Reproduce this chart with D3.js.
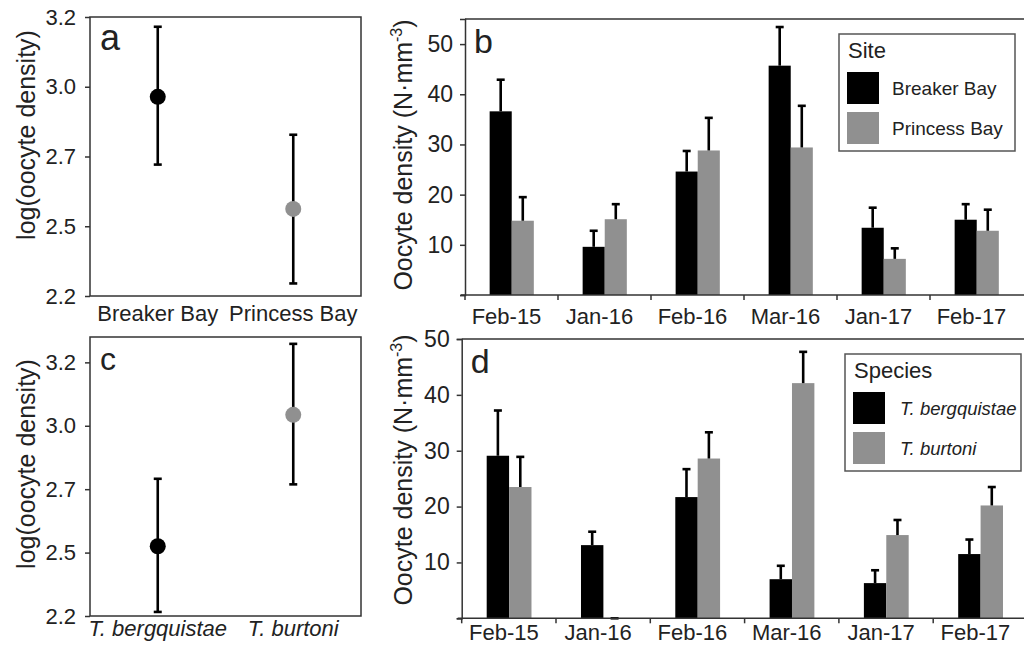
<!DOCTYPE html>
<html>
<head>
<meta charset="utf-8">
<script src="https://cdn.jsdelivr.net/npm/d3@7"></script>
<style>
  html, body { margin: 0; padding: 0; background: #fff; }
  svg { display: block; font-family: "Liberation Sans", Arial, sans-serif; }
</style>
</head>
<body>
<svg id="chart" width="1024" height="649"></svg>
<script>
// ── data ──
const siteNames = ['Breaker Bay', 'Princess Bay'];
const siteMean = [2.914, 2.512];
const siteLow = [2.671, 2.245];
const siteHigh = [3.165, 2.778];

const speciesNames = ['T. bergquistae', 'T. burtoni'];
const speciesMean = [2.475, 2.993];
const speciesLow = [2.216, 2.719];
const speciesHigh = [2.741, 3.273];

const logTicks = [2.2, 2.45, 2.7, 2.95, 3.2];
const logTickLabels = ['2.2', '2.5', '2.7', '3.0', '3.2'];

const months = ['Feb-15', 'Jan-16', 'Feb-16', 'Mar-16', 'Jan-17', 'Feb-17'];
const breakerMean = [36.6, 9.6, 24.6, 45.7, 13.4, 15.0];
const breakerUpper = [42.9, 12.8, 28.7, 53.4, 17.4, 18.1];
const princessMean = [14.8, 15.1, 28.8, 29.4, 7.2, 12.8];
const princessUpper = [19.5, 18.1, 35.3, 37.7, 9.3, 17.0];

const bergMean = [29.1, 13.1, 21.7, 7.0, 6.3, 11.5];
const bergUpper = [37.2, 15.5, 26.7, 9.4, 8.6, 14.1];
const burtMean = [23.5, 0, 28.6, 42.1, 14.9, 20.2];
const burtUpper = [28.9, 0, 33.3, 47.7, 17.6, 23.5];

const densityTicks = [10, 20, 30, 40, 50];

const BLACK = '#000', GREY = '#909090', AXIS = '#333';
const svg = d3.select('#chart');

/* ── dot + error bar panels (a, c) ── */
function dotPanel(o) {
  const g = svg.append('g');
  const x = d3.scalePoint().domain(o.names).range([o.x0, o.x1]).padding(0.5);
  const y = d3.scaleLinear().domain(o.domain).range([o.y1, o.y0]);

  g.append('rect').attr('x', o.x0).attr('y', o.y0)
    .attr('width', o.x1 - o.x0).attr('height', o.y1 - o.y0)
    .attr('fill', 'none').attr('stroke', AXIS).attr('stroke-width', 1.5);

  const ax = g.append('g').attr('transform', `translate(${o.x0},0)`)
    .call(d3.axisLeft(y).tickValues(logTicks).tickSize(5).tickPadding(9)
      .tickFormat((d, i) => logTickLabels[i]));
  ax.select('.domain').remove();
  ax.selectAll('line').attr('stroke', AXIS).attr('stroke-width', 1.5);
  ax.selectAll('text').attr('font-size', 22).attr('fill', '#222')
    .attr('font-family', '"Liberation Sans", Arial, sans-serif');

  o.names.forEach((n, i) => {
    const cx = x(n);
    g.append('line').attr('x1', cx).attr('x2', cx)
      .attr('y1', y(o.low[i])).attr('y2', y(o.high[i]))
      .attr('stroke', '#000').attr('stroke-width', 2.6);
    [o.low[i], o.high[i]].forEach(v => {
      g.append('line').attr('x1', cx - 4).attr('x2', cx + 4)
        .attr('y1', y(v)).attr('y2', y(v))
        .attr('stroke', '#000').attr('stroke-width', 2.6);
    });
    g.append('circle').attr('cx', cx).attr('cy', y(o.mean[i])).attr('r', 8)
      .attr('fill', i === 0 ? BLACK : GREY);
    g.append('text').attr('x', cx).attr('y', o.labelY)
      .attr('text-anchor', 'middle').attr('font-size', 22).attr('fill', '#222')
      .attr('font-style', o.italic ? 'italic' : 'normal').text(n);
  });

  g.append('text').attr('transform', `translate(${o.titleX},${o.titleY}) rotate(-90)`)
    .attr('text-anchor', 'middle').attr('font-size', 25).attr('fill', '#222')
    .text('log(oocyte density)');
  g.append('text').attr('x', o.x0 + 10).attr('y', o.y0 + 33)
    .attr('font-size', o.letterSize).attr('fill', '#222').text(o.letter);
}

dotPanel({ names: siteNames, mean: siteMean, low: siteLow, high: siteHigh,
  domain: [2.2, 3.2], x0: 90, x1: 361, y0: 17, y1: 296, labelY: 321,
  titleX: 35, titleY: 135, letter: 'a', letterSize: 36, italic: false });
dotPanel({ names: speciesNames, mean: speciesMean, low: speciesLow, high: speciesHigh,
  domain: [2.2, 3.3], x0: 90, x1: 361, y0: 337, y1: 616, labelY: 636,
  titleX: 35, titleY: 464, letter: 'c', letterSize: 32, italic: true });

/* ── bar panels (b, d) ── */
function barPanel(o) {
  const g = svg.append('g');
  const x = d3.scaleBand().domain(months).range([o.x0, o.x1]).padding(0);
  const bw = x.bandwidth();
  const xs = d3.scaleBand().domain([0, 1]).range([bw * 0.265, bw * 0.74]).padding(0);
  const y = d3.scaleLinear().domain(o.domain).range([o.y1, o.y0]);
  const series = [
    { mean: o.mean0, upper: o.upper0, col: BLACK },
    { mean: o.mean1, upper: o.upper1, col: GREY }
  ];

  // top frame line
  g.append('line').attr('x1', o.x0).attr('x2', 1024).attr('y1', o.y0).attr('y2', o.y0)
    .attr('stroke', AXIS).attr('stroke-width', 1.5);

  series.forEach((s, si) => {
    months.forEach((m, i) => {
      const bx = x(m) + xs(si), w = xs.bandwidth();
      g.append('rect').attr('x', bx).attr('y', y(s.mean[i]))
        .attr('width', w).attr('height', y(0) - y(s.mean[i])).attr('fill', s.col);
      const cx = bx + w / 2;
      g.append('line').attr('x1', cx).attr('x2', cx)
        .attr('y1', y(s.mean[i])).attr('y2', y(s.upper[i]))
        .attr('stroke', '#000').attr('stroke-width', 2.6);
      g.append('line').attr('x1', cx - 4).attr('x2', cx + 4)
        .attr('y1', y(s.upper[i])).attr('y2', y(s.upper[i]))
        .attr('stroke', '#000').attr('stroke-width', 2.6);
    });
  });

  // y axis
  const ay = g.append('g').attr('transform', `translate(${o.x0},0)`)
    .call(d3.axisLeft(y).tickValues([0].concat(densityTicks)).tickSize(5).tickPadding(7)
      .tickFormat(d => d === 0 ? '' : d));
  ay.select('.domain').attr('stroke', AXIS).attr('stroke-width', 1.5);
  ay.selectAll('line').attr('stroke', AXIS).attr('stroke-width', 1.5);
  ay.selectAll('text').attr('font-size', 23).attr('fill', '#222')
    .attr('font-family', '"Liberation Sans", Arial, sans-serif');

  // x axis: line with ticks at the category boundaries
  g.append('line').attr('x1', o.x0 - 4).attr('x2', 1024).attr('y1', y(0)).attr('y2', y(0))
    .attr('stroke', AXIS).attr('stroke-width', 1.5);
  months.forEach(m => {
    g.append('line').attr('x1', x(m)).attr('x2', x(m))
      .attr('y1', y(0)).attr('y2', y(0) + 5).attr('stroke', AXIS).attr('stroke-width', 1.5);
    g.append('text').attr('x', x(m) + bw / 2 - 5).attr('y', o.labelY)
      .attr('text-anchor', 'middle').attr('font-size', 22).attr('fill', '#222').text(m);
  });

  // axis title with superscript
  const t = g.append('text').attr('transform', `translate(${o.titleX},${o.titleY}) rotate(-90)`)
    .attr('text-anchor', 'middle').attr('font-size', 25).attr('fill', '#222');
  t.append('tspan').text('Oocyte density (N\u00b7mm');
  t.append('tspan').attr('font-size', 16).attr('dy', -10).text('-3');
  t.append('tspan').attr('dy', 10).text(')');

  g.append('text').attr('x', o.x0 + 9).attr('y', o.y0 + 34)
    .attr('font-size', 34).attr('fill', '#222').text(o.letter);

  // legend
  const L = o.legend;
  g.append('rect').attr('x', L.x).attr('y', L.y).attr('width', L.w).attr('height', L.h)
    .attr('fill', '#fff').attr('stroke', '#555').attr('stroke-width', 1.5);
  g.append('text').attr('x', L.x + L.pad).attr('y', L.y + 24)
    .attr('font-size', 22).attr('fill', '#222').text(L.title);
  L.items.forEach((name, i) => {
    const yy = L.y + 38 + i * 40;
    g.append('rect').attr('x', L.x + L.pad - 1).attr('y', yy).attr('width', 32).attr('height', 32)
      .attr('fill', series[i].col);
    g.append('text').attr('x', L.tx).attr('y', yy + 23)
      .attr('font-size', L.fs).attr('fill', '#222')
      .attr('font-style', L.italic ? 'italic' : 'normal').text(name);
  });
}

barPanel({ mean0: breakerMean, upper0: breakerUpper, mean1: princessMean, upper1: princessUpper,
  domain: [0, 55], x0: 465, x1: 1023, y0: 19, y1: 295, labelY: 324,
  titleX: 412, titleY: 155, letter: 'b',
  legend: { x: 839, y: 34, w: 176, h: 117, pad: 9, tx: 892, fs: 19, title: 'Site',
    items: siteNames, italic: false } });
barPanel({ mean0: bergMean, upper0: bergUpper, mean1: burtMean, upper1: burtUpper,
  domain: [0, 50], x0: 461.7, x1: 1027.5, y0: 339, y1: 618.3, labelY: 640,
  titleX: 412, titleY: 470, letter: 'd',
  legend: { x: 845, y: 354, w: 176, h: 117, pad: 9, tx: 900, fs: 18.5, title: 'Species',
    items: speciesNames, italic: true } });
</script>
</body>
</html>
